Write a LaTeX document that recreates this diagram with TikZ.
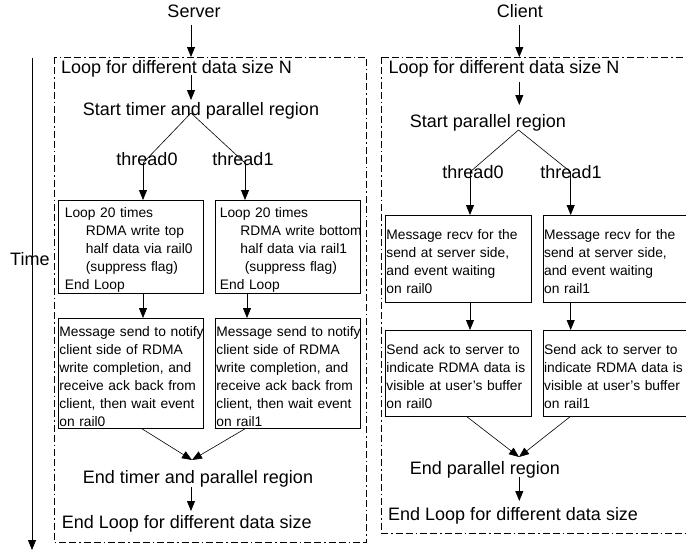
\documentclass[tikz,border=0pt]{standalone}
\usepackage{fontspec}
\setmainfont{Liberation Sans}
\usetikzlibrary{arrows.meta}
\begin{document}
\begin{tikzpicture}[x=1pt,y=-1pt,
  big/.style={font=\fontsize{18}{20}\selectfont, inner sep=0pt},
  stepbox/.style={draw, line width=0.8pt, anchor=north west, align=left,
    inner sep=1pt, text width=143pt, minimum width=145pt,
    font=\fontsize{13.8}{18}\selectfont},
  arr/.style={-{Triangle[length=10pt,width=8pt]}, line width=0.8pt},
  ln/.style={line width=0.6pt},
  frame/.style={line width=0.8pt, dash pattern=on 7pt off 3pt on 7pt off 3pt on 1.5pt off 3pt}]
\useasboundingbox (0,0) rectangle (686,552);

% frames
\draw[frame] (54,57) rectangle (366.5,542);
\draw[frame] (381.5,57) -- (700,57);
\draw[frame] (381.5,57) -- (381.5,533) -- (700,533);

% time axis
\node[big, anchor=base west] (time) at (10,265) {Time};
\coordinate (t0) at (32,58);
\coordinate (t1) at (32,550);
\draw[arr] (t0) -- (t1);

% ---------------- Server ----------------
\node[big, anchor=base] (server) at (194,17) {Server};
\node[big, anchor=base west] (sloop) at (61,73.3) {Loop for different data size N};
\node[big, anchor=base] (sstart) at (201,115) {Start timer and parallel region};
\node[big, anchor=base] (sth0) at (147,165) {thread0};
\node[big, anchor=base] (sth1) at (243,165) {thread1};

\node[stepbox, minimum height=88pt] (b1) at (58,200) {%
\rule{0pt}{16pt}\mbox{\hspace*{5.5pt}Loop 20 times}\\
\mbox{\hspace*{26.5pt}RDMA write top}\\
\mbox{\hspace*{26.5pt}half data via rail0}\\
\mbox{\hspace*{26.5pt}(suppress flag)}\\
\mbox{\hspace*{5.5pt}End Loop}};
\node[stepbox, minimum height=88pt] (b2) at (215,200) {%
\rule{0pt}{16pt}\mbox{\hspace*{3.5pt}Loop 20 times}\\
\mbox{\hspace*{24pt}RDMA write bottom}\\
\mbox{\hspace*{24pt}half data via rail1}\\
\mbox{\hspace*{28.5pt}(suppress flag)}\\
\mbox{\hspace*{3.5pt}End Loop}};
\node[stepbox, minimum height=110pt] (b3) at (58,318) {%
\rule{0pt}{16pt}\mbox{Message send to notify}\\
\mbox{client side of RDMA}\\
\mbox{write completion, and}\\
\mbox{receive ack back from}\\
\mbox{client, then wait event}\\
\mbox{on rail0}};
\node[stepbox, minimum height=110pt] (b4) at (215,318) {%
\rule{0pt}{16pt}\mbox{Message send to notify}\\
\mbox{client side of RDMA}\\
\mbox{write completion, and}\\
\mbox{receive ack back from}\\
\mbox{client, then wait event}\\
\mbox{on rail1}};

\node[big, anchor=base] (send) at (198,483) {End timer and parallel region};
\node[big, anchor=base west] (sendloop) at (61.7,528) {End Loop for different data size};

\coordinate (s0) at (191,25);
\coordinate (s1) at (191,57);
\draw[arr] (s0) -- (s1);
\coordinate (s2) at (191,75);
\coordinate (s3) at (191,100);
\draw[arr] (s2) -- (s3);
\coordinate (sfork) at (191,113);
\coordinate (sl) at (143,163);
\coordinate (sr) at (245,163);
\draw[ln] (sfork) -- (sl);
\draw[ln] (sfork) -- (sr);
\draw[arr] (sl) -- (sl |- b1.north);
\draw[arr] (sr) -- (sr |- b2.north);
\coordinate (sm) at (247,0);
\draw[arr] (b1.south -| sl) -- (b3.north -| sl);
\draw[arr] (b2.south -| sm) -- (b4.north -| sm);
\coordinate (sjoin) at (192,460);
\coordinate (sj0) at (142,0);
\coordinate (sj1) at (245,0);
\draw[ln, -{Triangle[length=10pt,width=8pt]}] (b3.south -| sj0) -- (sjoin);
\draw[ln, -{Triangle[length=10pt,width=8pt]}] (b4.south -| sj1) -- (sjoin);
\coordinate (s4) at (191,487);
\coordinate (s5) at (191,511);
\draw[arr] (s4) -- (s5);

% ---------------- Client ----------------
\node[big, anchor=base] (client) at (520,17) {Client};
\node[big, anchor=base west] (cloop) at (388.3,73.3) {Loop for different data size N};
\node[big, anchor=base] (cstart) at (488,127) {Start parallel region};
\node[big, anchor=base] (cth0) at (473,178) {thread0};
\node[big, anchor=base] (cth1) at (571,178) {thread1};

\node[stepbox, minimum height=87pt, minimum width=146pt, text width=144pt] (c1) at (385,215) {%
\rule{0pt}{16pt}\mbox{Message recv for the}\\
\mbox{send at server side,}\\
\mbox{and event waiting}\\
\mbox{on rail0}};
\node[stepbox, minimum height=87pt, minimum width=146pt, text width=144pt] (c2) at (542.7,215) {%
\rule{0pt}{16pt}\mbox{Message recv for the}\\
\mbox{send at server side,}\\
\mbox{and event waiting}\\
\mbox{on rail1}};
\node[stepbox, minimum height=86pt, minimum width=146pt, text width=144pt] (c3) at (385,330) {%
\rule{0pt}{16pt}\mbox{Send ack to server to}\\
\mbox{indicate RDMA data is}\\
\mbox{visible at user's buffer}\\
\mbox{on rail0}};
\node[stepbox, minimum height=86pt, minimum width=146pt, text width=144pt] (c4) at (542.7,330) {%
\rule{0pt}{16pt}\mbox{Send ack to server to}\\
\mbox{indicate RDMA data is}\\
\mbox{visible at user's buffer}\\
\mbox{on rail1}};

\node[big, anchor=base] (cend) at (485,474) {End parallel region};
\node[big, anchor=base west] (cendloop) at (388,520.7) {End Loop for different data size};

\coordinate (c0) at (519.3,25);
\coordinate (c1a) at (519.3,57);
\draw[arr] (c0) -- (c1a);
\coordinate (c2a) at (519.3,82);
\coordinate (c3a) at (519.3,105);
\draw[arr] (c2a) -- (c3a);
\coordinate (cfork) at (518.5,130);
\coordinate (cl) at (470,172);
\coordinate (cr) at (570.7,172);
\draw[ln] (cfork) -- (cl);
\draw[ln] (cfork) -- (cr);
\draw[arr] (cl) -- (cl |- c1.north);
\draw[arr] (cr) -- (cr |- c2.north);
\draw[arr] (c1.south -| cl) -- (c3.north -| cl);
\draw[arr] (c2.south -| cr) -- (c4.north -| cr);
\coordinate (cjoin) at (519,457);
\coordinate (cj0) at (467,0);
\coordinate (cj1) at (570,0);
\draw[ln, -{Triangle[length=10pt,width=8pt]}] (c3.south -| cj0) -- (cjoin);
\draw[ln, -{Triangle[length=10pt,width=8pt]}] (c4.south -| cj1) -- (cjoin);
\coordinate (c4a) at (519.3,477);
\coordinate (c5a) at (519.3,501);
\draw[arr] (c4a) -- (c5a);
\end{tikzpicture}
\end{document}
